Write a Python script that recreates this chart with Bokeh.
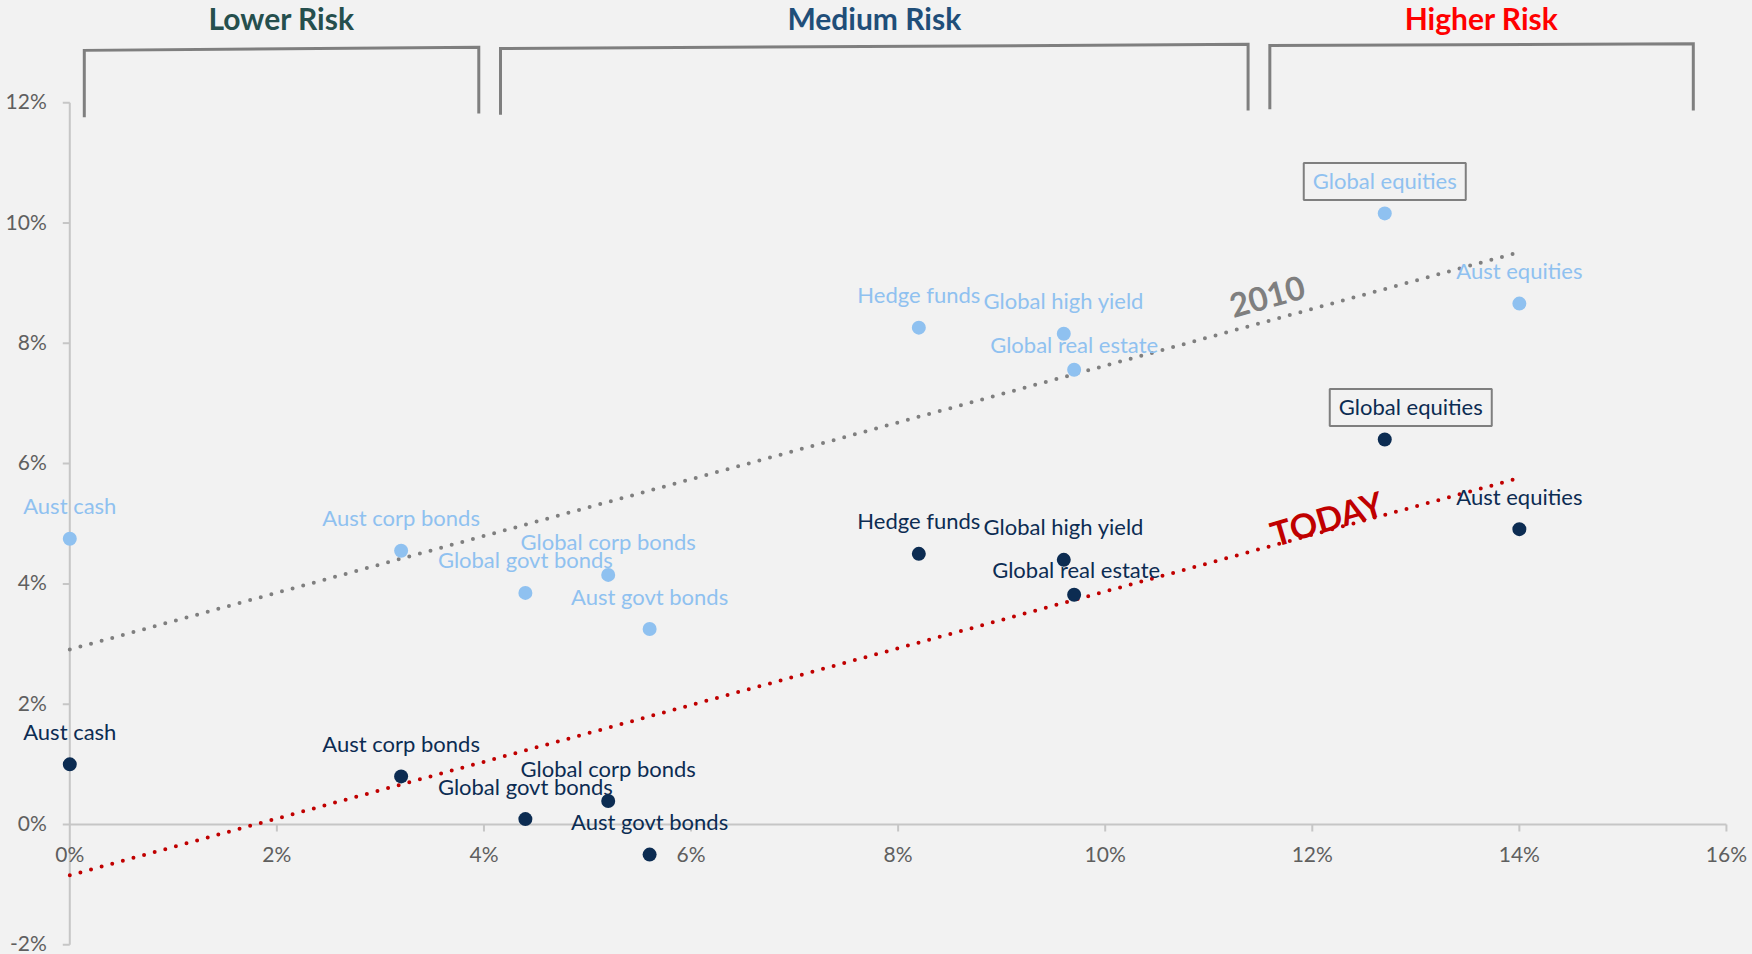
import math
import numpy as np
from bokeh.plotting import figure
from bokeh.models import Range1d
from bokeh.core.properties import value
from bokeh.embed import file_html
from bokeh.resources import INLINE

# ---------------- data ----------------
assets = ["Aust cash", "Aust corp bonds", "Global govt bonds", "Global corp bonds",
          "Aust govt bonds", "Hedge funds", "Global high yield", "Global real estate",
          "Global equities", "Aust equities"]
risk = [0.0, 3.2, 4.4, 5.2, 5.6, 8.2, 9.6, 9.7, 12.7, 14.0]            # risk (%)
return_2010 = [4.75, 4.55, 3.85, 4.15, 3.25, 8.26, 8.16, 7.56, 10.16, 8.66]  # expected return 2010 (%)
return_today = [1.0, 0.8, 0.09, 0.39, -0.5, 4.5, 4.4, 3.82, 6.4, 4.91]      # expected return today (%)

x_ticks = [0, 2, 4, 6, 8, 10, 12, 14, 16]
x_tick_labels = ["0%", "2%", "4%", "6%", "8%", "10%", "12%", "14%", "16%"]
y_ticks = [-2, 0, 2, 4, 6, 8, 10, 12]
y_tick_labels = ["-2%", "0%", "2%", "4%", "6%", "8%", "10%", "12%"]

risk_bands = ["Lower Risk", "Medium Risk", "Higher Risk"]
band_start = [0.14, 4.16, 11.59]
band_end = [3.95, 11.38, 15.68]

trend_labels = ["2010", "TODAY"]

# ---------------- styles / layout ----------------
W, H = 1752, 954
PX_X = 103.54   # pixels per 1% on x
PX_Y = 60.15    # pixels per 1% on y
X0_PX, Y0_PX = 69.3, 824.0  # position of the origin inside the frame
x_start = -X0_PX / PX_X
y_top = Y0_PX / PX_Y

BG = "#F2F2F2"
LIGHT = "#8FC1F0"
DARK = "#0C2C52"
AXIS = "#C6C6C6"
TICK_TXT = "#5F5F5F"
FONT = value("Lato")

label_dy = [33, 33, 33, 33, 33, 33, 33, 25, 33, 33]   # px above the marker
label_dx_today = [0, 0, 0, 0, 0, 0, 0, 2, 26, 0]      # px shift for today's labels
boxed = "Global equities"

band_top_left = [12.87, 12.90, 12.95]
band_top_right = [12.92, 12.97, 12.98]
band_bot_left = [11.76, 11.80, 11.89]
band_bot_right = [11.82, 11.87, 11.87]
band_colors = ["#254F4D", "#1F4E79", "#FF0000"]

p = figure(width=W, height=H, output_backend="svg", toolbar_location=None,
           x_range=Range1d(x_start, x_start + W / PX_X),
           y_range=Range1d(y_top - H / PX_Y, y_top),
           x_axis_type=None, y_axis_type=None,
           min_border=0, min_border_left=0, min_border_right=0,
           min_border_top=0, min_border_bottom=0,
           background_fill_color=BG, border_fill_color=BG,
           outline_line_color=None)
p.xgrid.visible = False
p.ygrid.visible = False

# ---------------- axes (drawn at the origin) ----------------
p.segment(x0=[0], y0=[y_ticks[0]], x1=[0], y1=[y_ticks[-1]], line_color=AXIS, line_width=2)
p.segment(x0=[x_ticks[0]], y0=[0], x1=[x_ticks[-1]], y1=[0], line_color=AXIS, line_width=2)
tick_len_x = 7 / PX_X
tick_len_y = 7 / PX_Y
p.segment(x0=[-tick_len_x] * len(y_ticks), y0=y_ticks, x1=[0] * len(y_ticks), y1=y_ticks,
          line_color=AXIS, line_width=2)
p.segment(x0=x_ticks[1:], y0=[0] * (len(x_ticks) - 1), x1=x_ticks[1:],
          y1=[-tick_len_y] * (len(x_ticks) - 1), line_color=AXIS, line_width=2)
p.text(x=[0] * len(y_ticks), y=y_ticks, text=y_tick_labels, x_offset=-23, y_offset=-2,
       text_font=FONT, text_font_size=value("21px"), text_color=TICK_TXT,
       text_align="right", text_baseline="middle")
p.text(x=x_ticks, y=[0] * len(x_ticks), text=x_tick_labels, x_offset=0, y_offset=29,
       text_font=FONT, text_font_size=value("21px"), text_color=TICK_TXT,
       text_align="center", text_baseline="alphabetic")

# ---------------- risk band brackets ----------------
xs = [[s, s, e, e] for s, e in zip(band_start, band_end)]
ys = [[bl, tl, tr, br] for bl, tl, tr, br in zip(band_bot_left, band_top_left,
                                                 band_top_right, band_bot_right)]
p.multi_line(xs=xs, ys=ys, line_color="#7F7F7F", line_width=3, line_join="miter")
band_mid = [(s + e) / 2 for s, e in zip(band_start, band_end)]
header_y = float(np.mean(band_top_left + band_top_right))
p.text(x=band_mid, y=[header_y] * len(risk_bands), text=risk_bands, y_offset=-29,
       text_font=FONT, text_font_size=value("30px"), text_font_style="bold",
       text_color=band_colors, text_align="center", text_baseline="alphabetic")

# ---------------- trend lines ----------------
x_fit = np.array([min(risk), max(risk)])
k_old, b_old = np.polyfit(risk, return_2010, 1)
k_new, b_new = np.polyfit(risk, return_today, 1)
p.line(x_fit, k_old * x_fit + b_old, line_color="#7F7F7F", line_width=4,
       line_dash="0 11", line_cap="round")
p.line(x_fit, k_new * x_fit + b_new, line_color="#C00000", line_width=4,
       line_dash="0 11", line_cap="round")

ang = math.atan(k_old * PX_Y / PX_X)
lx_old, lx_new = 11.565, 12.137
p.text(x=[lx_old], y=[k_old * lx_old + b_old + 25 / PX_Y], text=[trend_labels[0]],
       angle=ang, text_font=FONT, text_font_size=value("33px"), text_font_style="bold",
       text_color="#7F7F7F", text_align="center", text_baseline="middle")
p.text(x=[lx_new], y=[k_new * lx_new + b_new + 13 / PX_Y], text=[trend_labels[1]],
       angle=ang + 0.02, text_font=FONT, text_font_size=value("34px"), text_font_style="bold",
       text_color="#C00000", text_align="center", text_baseline="middle")

# ---------------- scatter points ----------------
p.scatter(risk, return_2010, size=14, fill_color=LIGHT, line_color=None)
p.scatter(risk, return_today, size=14, fill_color=DARK, line_color=None)

# ---------------- data labels ----------------
p.text(x=risk, y=return_2010, text=assets, x_offset=0, y_offset=[-d for d in label_dy],
       text_font=FONT, text_font_size=value("22px"), text_color=LIGHT,
       text_align="center", text_baseline="alphabetic")
p.text(x=risk, y=return_today, text=assets, x_offset=label_dx_today,
       y_offset=[-d for d in label_dy],
       text_font=FONT, text_font_size=value("22px"), text_color=DARK,
       text_align="center", text_baseline="alphabetic")

# boxes around the Global equities labels
i = assets.index(boxed)
p.rect(x=[risk[i], risk[i] + label_dx_today[i] / PX_X],
       y=[return_2010[i] + 32 / PX_Y, return_today[i] + 32 / PX_Y],
       width=162, height=37, width_units="screen", height_units="screen",
       fill_alpha=0, line_color="#7F7F7F", line_width=2)

html = file_html(p, INLINE, title="Risk and return")
html = html.replace("</head>", "<style>body{background:#F2F2F2;}</style></head>", 1)
open("out.html", "w").write(html)
